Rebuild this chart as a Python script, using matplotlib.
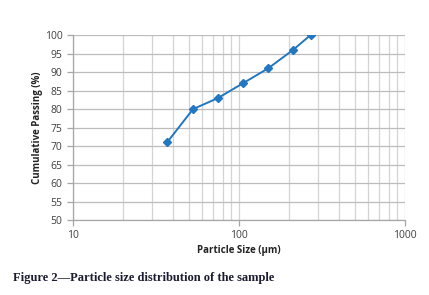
import numpy as np
import matplotlib.pyplot as plt

size_um = [37, 53, 75, 106, 150, 212, 270]
passing = [71, 80, 83, 87, 91, 96, 100]
y_ticks = list(range(50, 105, 5))
x_ticks = [10, 100, 1000]

fig = plt.figure(figsize=(4.29, 2.95), dpi=100)
ax = fig.add_axes([0.1695, 0.254, 0.7745, 0.627])

ax.plot(size_um, passing, color='#2277c0', lw=1.4, marker='D', ms=4,
        markerfacecolor='#2277c0', markeredgecolor='#2277c0', zorder=3)

ax.set_xscale('log')
ax.set_xlim(10, 1000)
ax.set_ylim(50, 100)
ax.set_yticks(y_ticks)
ax.set_xticks(x_ticks)
ax.set_xticklabels([str(t) for t in x_ticks])
ax.minorticks_on()
ax.tick_params(axis='y', which='minor', left=False)
ax.tick_params(axis='x', which='minor', bottom=False)

ax.grid(True, which='major', axis='y', color='#bcbcbc', lw=0.9)
ax.grid(True, which='both', axis='x', color='#d4d4d4', lw=0.9)
ax.set_axisbelow(True)

for s in ['top', 'right']:
    ax.spines[s].set_visible(False)
for s in ['left', 'bottom']:
    ax.spines[s].set_color('#a6a6a6')
    ax.spines[s].set_linewidth(0.9)
ax.tick_params(axis='both', which='major', length=4, width=0.9, color='#a6a6a6',
               labelsize=7.5, labelcolor='#404040', direction='out')
ax.tick_params(axis='x', pad=3)

for lab in ax.get_xticklabels() + ax.get_yticklabels():
    lab.set_family('Open Sans')

ax.set_xlabel('Particle Size (µm)', fontsize=7, fontweight='bold', family='Open Sans',
              color='#222222', labelpad=3)
ax.set_ylabel('Cumulative Passing (%)', fontsize=7, fontweight='bold', family='Open Sans',
              color='#222222', labelpad=1)

fig.text(0.03, 0.0576, 'Figure 2\u2014Particle size distribution of the sample',
         family='Liberation Serif', fontweight='bold', fontsize=9, color='#1c1c30',
         va='center')

fig.savefig('out.png', dpi=100)
